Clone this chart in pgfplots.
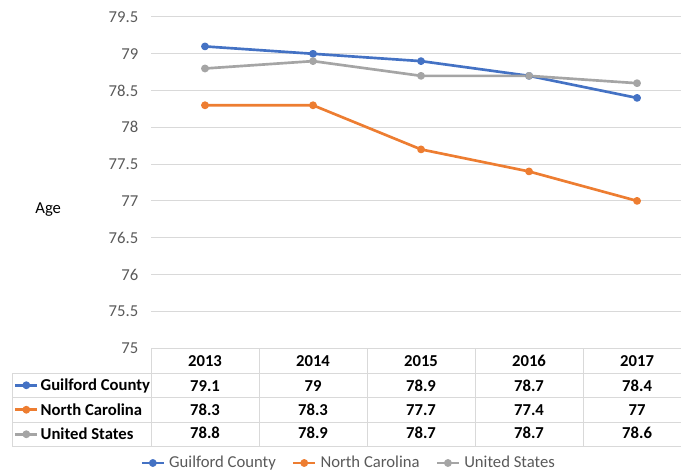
\documentclass[border=0pt]{standalone}
\usepackage{pgfplots}
\pgfplotsset{compat=1.18}
\usepackage{pgfplotstable}
\usepackage{fontspec}
\setmainfont{Carlito}
\definecolor{cblue}{HTML}{4472C4}
\definecolor{corange}{HTML}{ED7D31}
\definecolor{cgray}{HTML}{A5A5A5}
\definecolor{gridc}{HTML}{D9D9D9}
\definecolor{txt}{HTML}{595959}
\pgfplotstableread{
x y
0 79.1
1 79
2 78.9
3 78.7
4 78.4
}\guilford
\pgfplotstableread{
x y
0 78.3
1 78.3
2 77.7
3 77.4
4 77
}\ncarolina
\pgfplotstableread{
x y
0 78.8
1 78.9
2 78.7
3 78.7
4 78.6
}\usa
\newcommand{\fs}{\fontsize{12.5}{15}\selectfont}
\pgfplotsset{
  excelleg/.style={legend image code/.code={\draw[mark repeat=2,mark phase=2,##1] plot coordinates {(0pt,0pt) (8.25pt,0pt) (16.5pt,0pt)};}},
  serstyle/.style={line width=2pt, line join=round, mark=*, mark size=1.9pt},
}
\begin{document}
\begin{tikzpicture}
\path[use as bounding box] (0,0) rectangle (510.75pt,356.25pt);
\begin{axis}[
  at={(113.25pt,95.25pt)}, anchor=south west, scale only axis,
  width=397.5pt, height=248.25pt,
  xmin=-0.5, xmax=4.407, ymin=75, ymax=79.5,
  clip=false,
  xtick=\empty, ytick={75,75.5,76,76.5,77,77.5,78,78.5,79,79.5},
  ymajorgrids, grid style={gridc, line width=0.75pt},
  axis line style={draw=none}, major tick length=0pt,
  /pgf/number format/assume math mode=true,
  tick label style={font=\fs, text=txt},
  yticklabel style={xshift=-6pt},
  ylabel={Age}, ylabel style={rotate=-90, at={(axis description cs:-0.194,0.417)}, anchor=center, font=\fs, text=black},
  excelleg,
  legend cell align=left,
  legend style={at={(axis description cs:-0.2585,-0.0755)}, anchor=north west, draw=none, fill=none, inner sep=0pt, outer sep=0pt, row sep=0pt, font=\bfseries\fs,
    nodes={inner sep=0pt, text height=13.2pt, text depth=5.175pt},
    /tikz/every odd column/.append style={column sep=1.5pt}},
]
\addplot[cblue, serstyle] table {\guilford};
\addlegendentry{Guilford County}
\addplot[corange, serstyle] table {\ncarolina};
\addlegendentry{North Carolina}
\addplot[cgray, serstyle] table {\usa};
\addlegendentry{United States}
% data table text
\addplot[draw=none, mark=none, forget plot, nodes near coords, point meta=explicit symbolic,
  nodes near coords style={anchor=center, font=\bfseries\fs, text=black}]
  coordinates {(0,74.823)[2013] (1,74.823)[2014] (2,74.823)[2015] (3,74.823)[2016] (4,74.823)[2017]};
\addplot[draw=none, mark=none, forget plot, nodes near coords, point meta=explicit,
  nodes near coords style={anchor=center, font=\bfseries\fs, text=black}]
  table[x=x, y expr=74.483, meta=y] {\guilford};
\addplot[draw=none, mark=none, forget plot, nodes near coords, point meta=explicit,
  nodes near coords style={anchor=center, font=\bfseries\fs, text=black}]
  table[x=x, y expr=74.157, meta=y] {\ncarolina};
\addplot[draw=none, mark=none, forget plot, nodes near coords, point meta=explicit,
  nodes near coords style={anchor=center, font=\bfseries\fs, text=black}]
  table[x=x, y expr=73.844, meta=y] {\usa};
\end{axis}
\begin{axis}[
  at={(113.25pt,95.25pt)}, anchor=south west, scale only axis,
  width=397.5pt, height=248.25pt, hide axis,
  xmin=0, xmax=1, ymin=0, ymax=1,
  excelleg, legend columns=3,
  legend style={at={(axis description cs:0.3736,-0.3474)}, anchor=center, draw=none, fill=none, font=\fs, text=txt,
    /tikz/every odd column/.append style={column sep=1pt},
    /tikz/every even column/.append style={column sep=10pt}},
]
\addlegendimage{cblue, serstyle}
\addlegendentry{Guilford County}
\addlegendimage{corange, serstyle}
\addlegendentry{North Carolina}
\addlegendimage{cgray, serstyle}
\addlegendentry{United States}
\end{axis}
\begin{scope}[x=0.75pt, y=-0.75pt, shift={(0pt,356.25pt)}]
\draw[gridc, line width=0.75pt] (151,348) -- (681,348);
\foreach \yy in {373,397.5,422,446.5} {\draw[gridc, line width=0.75pt] (12,\yy) -- (681,\yy);}
\draw[gridc, line width=0.75pt] (12,373) -- (12,446.5);
\foreach \xx in {151,259,367,475,583} {\draw[gridc, line width=0.75pt] (\xx,348) -- (\xx,446.5);}
\end{scope}
\end{tikzpicture}
\end{document}
